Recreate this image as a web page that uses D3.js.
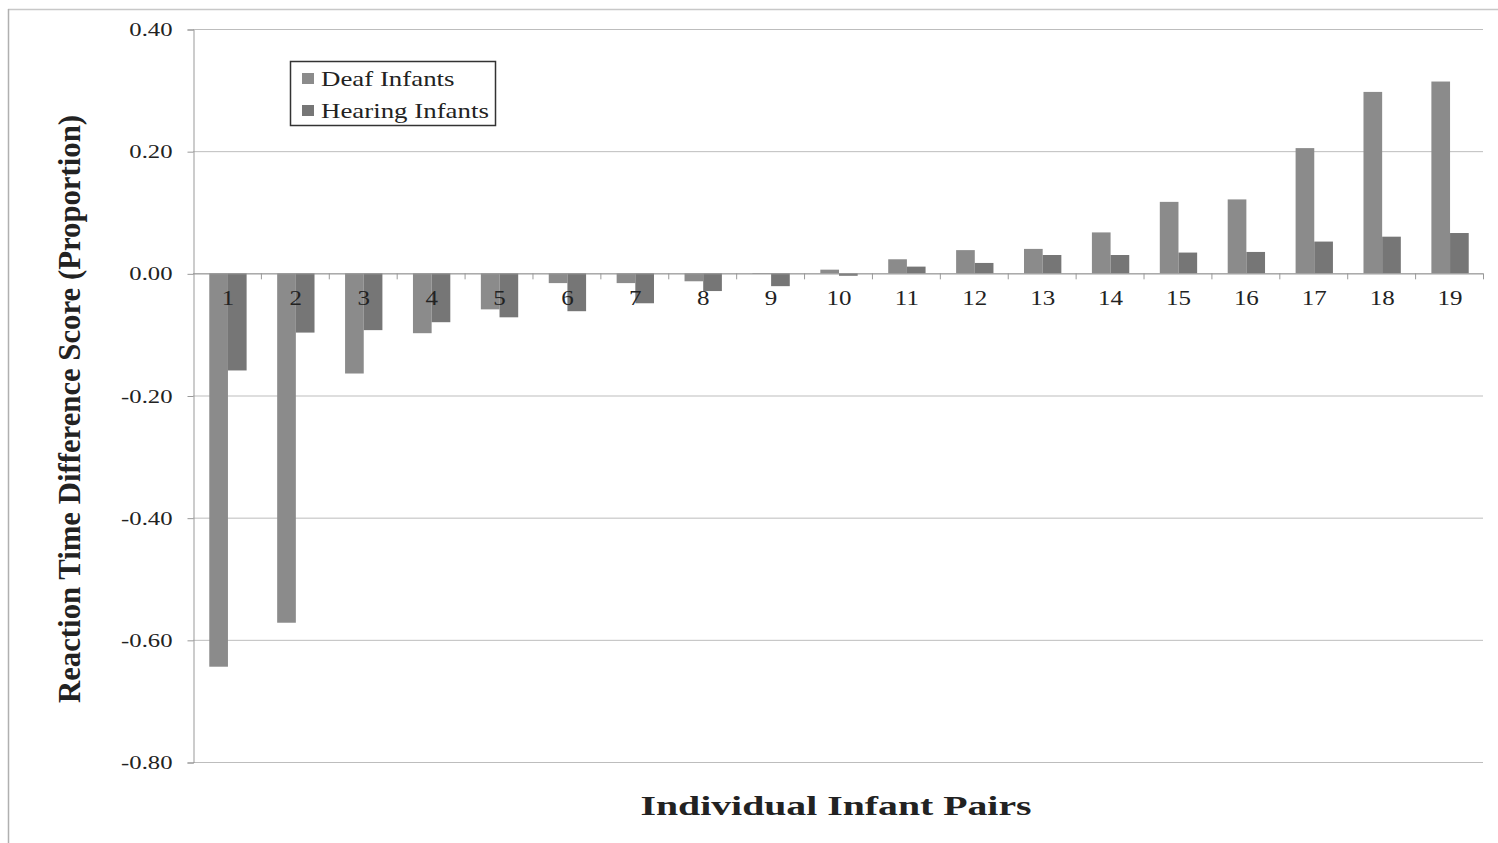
<!DOCTYPE html>
<html><head><meta charset="utf-8">
<script src="https://cdn.jsdelivr.net/npm/d3@7/dist/d3.min.js"></script>
<style>body{margin:0;background:#fff}svg{display:block}</style>
</head><body>
<svg id="c" width="1498" height="843"></svg>
<script>
const categories = ["1","2","3","4","5","6","7","8","9","10","11","12","13","14","15","16","17","18","19"];
const deaf = [-0.644,-0.572,-0.164,-0.098,-0.059,-0.016,-0.016,-0.013,-0.001,0.006,0.023,0.038,0.040,0.067,0.117,0.121,0.205,0.297,0.314];
const hearing = [-0.159,-0.097,-0.093,-0.080,-0.072,-0.062,-0.049,-0.029,-0.021,-0.004,0.011,0.017,0.030,0.030,0.034,0.035,0.052,0.060,0.066];
const seriesNames = ["Deaf Infants","Hearing Infants"];
const yTicks = [0.40,0.20,0.00,-0.20,-0.40,-0.60,-0.80];

const svg = d3.select("#c");
const serif = "'Liberation Serif','Times New Roman',serif";
const L=193, R=1483, T=29, B=762;
const SX = 1.3; // horizontal stretch of the original's text
const y = d3.scaleLinear().domain([-0.8,0.4]).range([B,T]);
const x = d3.scaleBand().domain(categories).range([L,R]).paddingInner(0).paddingOuter(0);
const colors = ["#8b8b8b","#767676"];

// outer frame
svg.append("line").attr("x1",8).attr("x2",1498).attr("y1",9.5).attr("y2",9.5).attr("stroke","#c8c8c8").attr("stroke-width",1.5);
svg.append("line").attr("x1",8.5).attr("x2",8.5).attr("y1",9).attr("y2",843).attr("stroke","#b0b0b0").attr("stroke-width",1.5);

// gridlines
svg.append("g").selectAll("line").data(yTicks).join("line")
  .attr("x1",L).attr("x2",R).attr("y1",d=>y(d)+0.5).attr("y2",d=>y(d)+0.5)
  .attr("stroke","#bdbdbd").attr("stroke-width",1);

// y axis
const fmt = d=> d<0 ? "-"+d3.format(".2f")(-d) : d3.format(".2f")(d);
const yAxis = d3.axisLeft(y).tickValues(yTicks).tickFormat(fmt).tickSize(6).tickPadding(0);
const ga = svg.append("g").attr("transform",`translate(${L+0.5},0.5)`).call(yAxis);
ga.select(".domain").attr("stroke","#999");
ga.selectAll(".tick line").attr("stroke","#999");
ga.selectAll(".tick text").attr("font-family",serif).attr("font-size",19).attr("fill","#222")
  .attr("x",-21/SX).attr("transform",`scale(${SX},1)`);

// bars
const bw = x.bandwidth()*0.275;
const g = svg.append("g");
categories.forEach((c,i)=>{
  const cx = x(c)+x.bandwidth()/2;
  [deaf[i],hearing[i]].forEach((v,j)=>{
    g.append("rect")
      .attr("x", cx - bw + j*bw + 1)
      .attr("width", bw)
      .attr("y", y(Math.max(0,v)))
      .attr("height", Math.abs(y(v)-y(0)))
      .attr("fill", colors[j]);
  });
});

// zero axis with ticks between categories
svg.append("line").attr("x1",L).attr("x2",R).attr("y1",y(0)+0.5).attr("y2",y(0)+0.5).attr("stroke","#999");
const bounds = categories.map(c=>x(c)+x.bandwidth());
svg.append("g").selectAll("line").data(bounds).join("line")
  .attr("x1",d=>d+0.5).attr("x2",d=>d+0.5).attr("y1",y(0)).attr("y2",y(0)+6).attr("stroke","#999");

// category labels
svg.append("g").selectAll("g").data(categories).join("g")
  .attr("transform",d=>`translate(${x(d)+x.bandwidth()/2+1},${y(0)+32}) scale(1.25,1)`)
  .append("text").attr("text-anchor","middle").attr("font-family",serif).attr("font-size",20).attr("fill","#222")
  .text(d=>d);

// legend
const lg = svg.append("g");
lg.append("rect").attr("x",290.5).attr("y",61.5).attr("width",205).attr("height",64)
  .attr("fill","#fff").attr("stroke","#333").attr("stroke-width",1.5);
seriesNames.forEach((n,i)=>{
  lg.append("rect").attr("x",302).attr("y",73+i*32).attr("width",12).attr("height",11).attr("fill",colors[i]);
  lg.append("g").attr("transform",`translate(321,${86+i*32}) scale(1.28,1)`)
    .append("text").attr("font-family",serif).attr("font-size",21).attr("fill","#222").text(n);
});

// axis titles
svg.append("text").attr("transform","translate(80,409) rotate(-90)")
  .attr("text-anchor","middle").attr("font-family",serif).attr("font-weight","bold")
  .attr("font-size",31).attr("fill","#222")
  .attr("textLength",588).attr("lengthAdjust","spacingAndGlyphs")
  .text("Reaction Time Difference Score (Proportion)");
svg.append("text").attr("x",836).attr("y",815)
  .attr("text-anchor","middle").attr("font-family",serif).attr("font-weight","bold")
  .attr("font-size",28).attr("fill","#222")
  .attr("textLength",391).attr("lengthAdjust","spacingAndGlyphs")
  .text("Individual Infant Pairs");
</script>
</body></html>
